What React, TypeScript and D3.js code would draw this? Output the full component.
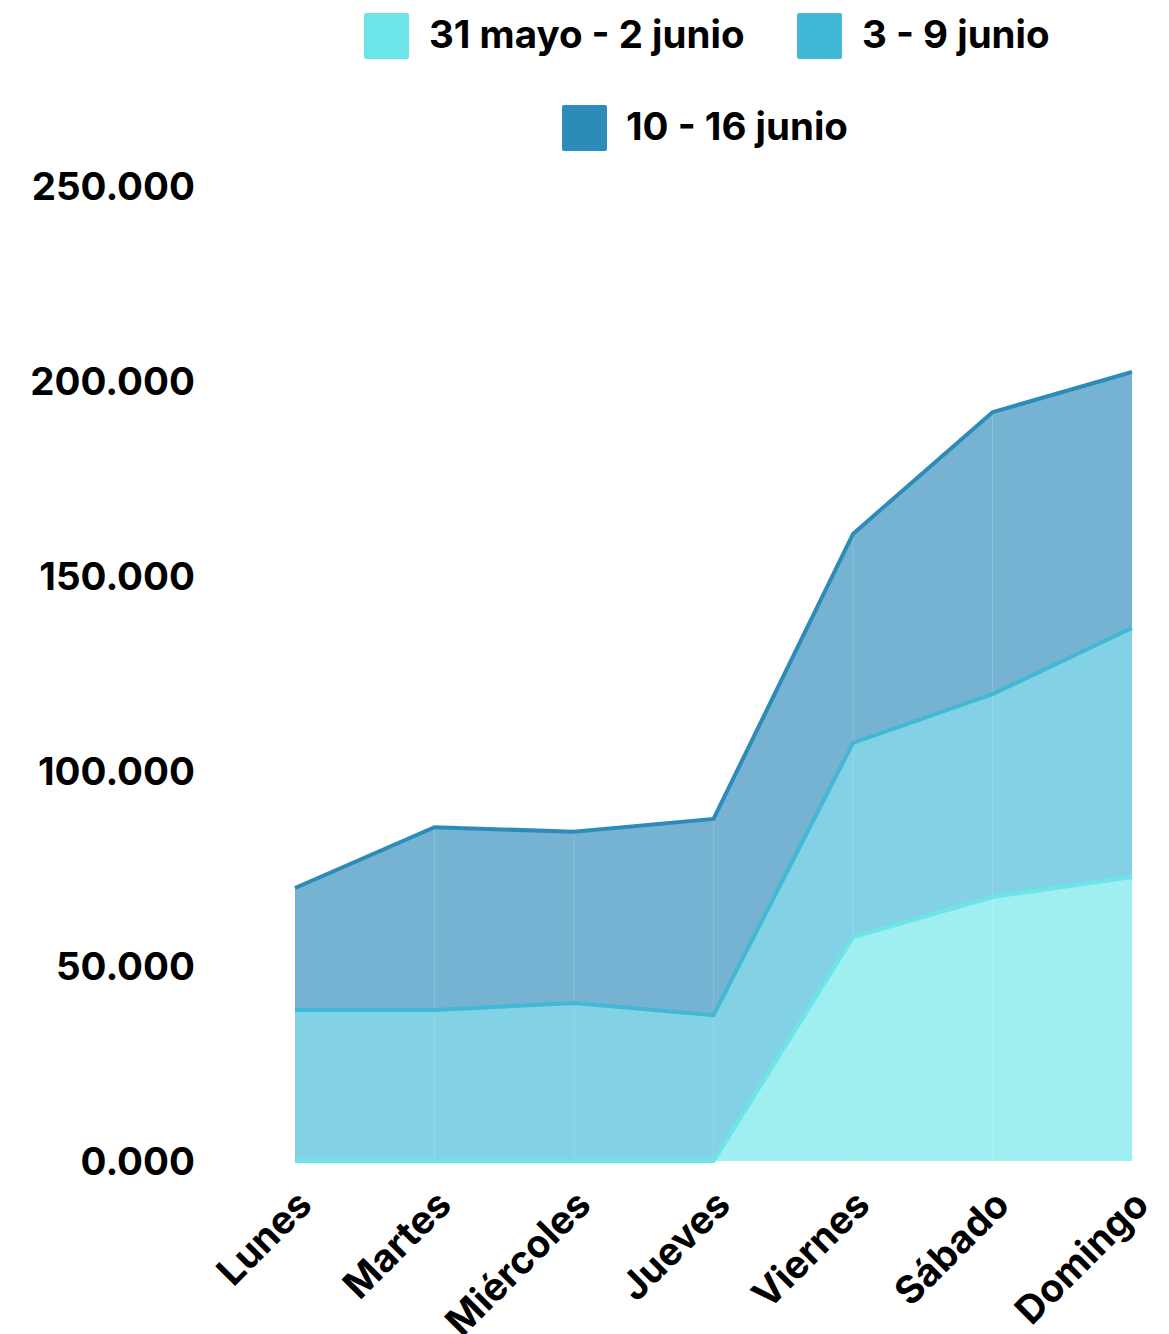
import React from 'react';
import * as d3 from 'd3';

const days = ['Lunes', 'Martes', 'Miércoles', 'Jueves', 'Viernes', 'Sábado', 'Domingo'];
const seriesNames = ['31 mayo - 2 junio', '3 - 9 junio', '10 - 16 junio'];
const colors = ['#6ce5e8', '#41b8d5', '#2d8bba'];

// values per week (stacked on top of each other)
const week1 = [0, 0, 0, 0, 57400, 67700, 72800];
const week2 = [38700, 38700, 40500, 37400, 49800, 52000, 63900];
const week3 = [31300, 46900, 43900, 50300, 53600, 72300, 65600];

const yTicks = [0, 50000, 100000, 150000, 200000, 250000];

const W = 1169;
const H = 1334;
const font = 'Inter, "Noto Sans", sans-serif';
const fs = 38.5;

const App = () => {
  const rows = days.map((d, i) => ({ day: d, s0: week1[i], s1: week2[i], s2: week3[i] }));
  const keys = ['s0', 's1', 's2'];
  const stacked = d3.stack<any>().keys(keys)(rows);

  const x = d3.scalePoint().domain(days).range([295, 1132]);
  const y = d3.scaleLinear().domain([0, 250000]).range([1161, 186]);

  const area = d3
    .area<any>()
    .x((d) => x(d.data.day) as number)
    .y0((d) => y(d[0]))
    .y1((d) => y(d[1]));

  const line = d3
    .line<any>()
    .x((d) => x(d.data.day) as number)
    .y((d) => y(d[1]));

  const fmt = (v: number) => (v / 1000).toFixed(3);

  const legend = [
    { i: 0, rx: 364, tx: 429, ry: 13 },
    { i: 1, rx: 797, tx: 862, ry: 13 },
    { i: 2, rx: 562, tx: 626, ry: 105 },
  ];

  return (
    <svg width={W} height={H} style={{ position: 'absolute', left: 0, top: 0, background: '#fff' }}>
      {stacked.map((s, i) => (
        <path key={'a' + i} d={area(s) as string} fill={colors[i]} fillOpacity={0.65} />
      ))}
      {/* faint seams between segments */}
      {days.slice(1, -1).map((d) => (
        <line
          key={'g' + d}
          x1={x(d)}
          x2={x(d)}
          y1={y(0)}
          y2={y(stacked[2][days.indexOf(d)][1])}
          stroke="#fff"
          strokeOpacity={0.15}
          strokeWidth={1}
        />
      ))}
      {stacked.map((s, i) => (
        <path key={'l' + i} d={line(s) as string} fill="none" stroke={colors[i]} strokeWidth={4} />
      ))}

      {yTicks.map((t) => (
        <text
          key={t}
          x={195}
          y={y(t)}
          dy="0.36em"
          textAnchor="end"
          fontFamily={font}
          fontWeight={700}
          fontSize={fs}
          fill="#000"
        >
          {fmt(t)}
        </text>
      ))}

      {days.map((d) => (
        <text
          key={d}
          transform={`translate(${(x(d) as number) + 19},${1207}) rotate(-45)`}
          textAnchor="end"
          fontFamily={font}
          fontWeight={700}
          fontSize={fs}
          fill="#000"
        >
          {d}
        </text>
      ))}

      {legend.map((l) => (
        <g key={l.i}>
          <rect x={l.rx} y={l.ry} width={45} height={46} rx={2} fill={colors[l.i]} />
          <text
            x={l.tx}
            y={l.ry + 21}
            dy="0.36em"
            fontFamily={font}
            fontWeight={700}
            fontSize={fs}
            fill="#000"
          >
            {seriesNames[l.i]}
          </text>
        </g>
      ))}
    </svg>
  );
};

export default App;
